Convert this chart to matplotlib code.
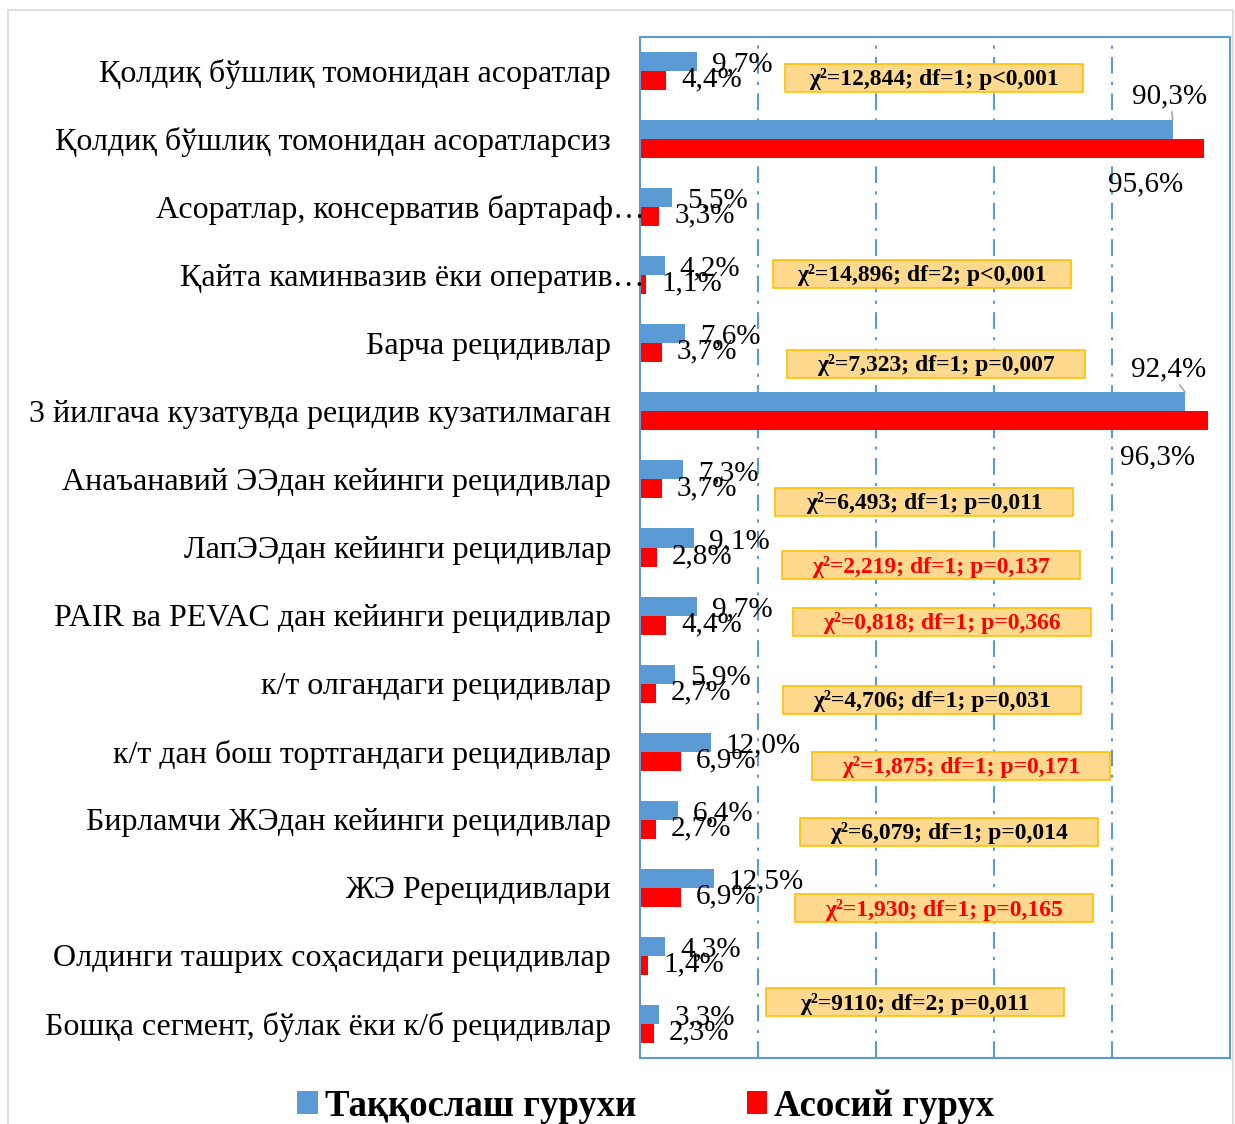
import numpy as np
import matplotlib.pyplot as plt
from matplotlib.patches import Rectangle
from matplotlib.transforms import ScaledTranslation

plt.rcParams['font.family'] = ['Liberation Serif', 'DejaVu Serif']

# data
categories = [
    'Қолдиқ бўшлиқ томонидан асоратлар',
    'Қолдиқ бўшлиқ томонидан асоратларсиз',
    'Асоратлар, консерватив бартараф…',
    'Қайта каминвазив ёки оператив…',
    'Барча рецидивлар',
    '3 йилгача кузатувда рецидив кузатилмаган',
    'Анаъанавий ЭЭдан кейинги рецидивлар',
    'ЛапЭЭдан кейинги рецидивлар',
    'PAIR ва PEVAC дан кейинги рецидивлар',
    'к/т олгандаги рецидивлар',
    'к/т дан бош тортгандаги рецидивлар',
    'Бирламчи ЖЭдан кейинги рецидивлар',
    'ЖЭ Ререцидивлари',
    'Олдинги ташрих соҳасидаги рецидивлар',
    'Бошқа сегмент, бўлак ёки к/б рецидивлар',
]
comparison = [9.7, 90.3, 5.5, 4.2, 7.6, 92.4, 7.3, 9.1, 9.7, 5.9, 12.0, 6.4, 12.5, 4.3, 3.3]
main_group = [4.4, 95.6, 3.3, 1.1, 3.7, 96.3, 3.7, 2.8, 4.4, 2.7, 6.9, 2.7, 6.9, 1.4, 2.3]

stat_texts = [
    'χ²=12,844; df=1; p<0,001',
    'χ²=14,896; df=2; p<0,001',
    'χ²=7,323; df=1; p=0,007',
    'χ²=6,493; df=1; p=0,011',
    'χ²=2,219; df=1; p=0,137',
    'χ²=0,818; df=1; p=0,366',
    'χ²=4,706; df=1; p=0,031',
    'χ²=1,875; df=1; p=0,171',
    'χ²=6,079; df=1; p=0,014',
    'χ²=1,930; df=1; p=0,165',
    'χ²=9110; df=2; p=0,011',
]
stat_significant = [True, True, True, True, False, False, True, False, True, False, True]

# box positions (x left in %, y center in row units)
stat_x = [24.6, 22.5, 24.9, 22.9, 24.1, 25.9, 24.2, 29.2, 27.1, 26.3, 21.4]
stat_y = [0.10, 2.98, 4.30, 6.33, 7.26, 8.09, 9.24, 10.21, 11.18, 12.30, 13.68]

blue = '#5B9BD5'
red = '#FF0000'

fig = plt.figure(figsize=(12.35, 11.24), dpi=100)
ax = fig.add_axes([640/1235, 1-1058/1124, 590/1235, 1021/1124])

y = np.arange(len(categories))
h = 0.28
ax.barh(y - h/2, comparison, height=h, color=blue, label='Таққослаш гурухи')
ax.barh(y + h/2, main_group, height=h, color=red, label='Асосий гурух')

ax.set_xlim(0, 100)
ax.set_ylim(len(categories) - 0.5, -0.5)
ax.set_xticks([])
ax.set_yticks([])
for s in ax.spines.values():
    s.set_color(blue)
    s.set_linewidth(1.5)
for gx in [20, 40, 60, 80]:
    ax.axvline(gx, color=blue, lw=1.5, ls=(0, (8, 4, 1.5, 4)), zorder=0)

# category labels (truncated ones overflow to the right like the original)
for i, c in enumerate(categories):
    shift = -29 + (34 if c.endswith('…') else 0)
    tr = ax.get_yaxis_transform() + ScaledTranslation(shift / 100, -3 / 100, fig.dpi_scale_trans)
    ax.text(0, i, c, transform=tr, ha='right', va='center', fontsize=23)

# value labels
big_offsets = {1: ((-3, 24), (-58, -26)), 5: ((-17, 23), (-51, -27))}
for i in range(len(categories)):
    lb = f'{comparison[i]:.1f}%'.replace('.', ',')
    lr = f'{main_group[i]:.1f}%'.replace('.', ',')
    if i in big_offsets:
        ob, orr = big_offsets[i]
        ax.annotate(lb, (comparison[i], i - h), xytext=ob, textcoords='offset pixels',
                    ha='center', va='center', fontsize=21,
                    arrowprops=dict(arrowstyle='-', color='#A6A6A6', lw=1.2,
                                    shrinkA=12, shrinkB=0))
        ax.annotate(lr, (main_group[i], i + h), xytext=orr, textcoords='offset pixels',
                    ha='center', va='center', fontsize=21)
    else:
        ax.annotate(lb, (comparison[i], i - h/2), xytext=(15, -3), textcoords='offset pixels',
                    ha='left', va='center', fontsize=21)
        ax.annotate(lr, (main_group[i], i + h/2), xytext=(15, 1), textcoords='offset pixels',
                    ha='left', va='center', fontsize=21)

# chi-square boxes
bw = 298 / 5.9
bh = 28 / (1021 / 15)
for t, sig, bx, by in zip(stat_texts, stat_significant, stat_x, stat_y):
    ax.add_patch(Rectangle((bx, by - bh/2), bw, bh, facecolor='#FFD98E',
                           edgecolor='#FFC000', lw=1.2, zorder=3))
    ax.text(bx + bw/2, by + 0.02, t, ha='center', va='center', fontsize=17,
            fontweight='bold', color='black' if sig else red, zorder=4)

# outer frame
fig.patches.append(Rectangle((8/1235, -0.01), 1225/1235, 1 - 10/1124 + 0.01,
                             transform=fig.transFigure, fill=False,
                             edgecolor='#D9D9D9', lw=1.2))

leg = fig.legend(loc='center', bbox_to_anchor=(646/1235, 1-1106/1124), ncol=2,
                 frameon=False, prop={'size': 26.5, 'weight': 'bold'},
                 handlelength=0.55, handleheight=0.55, handletextpad=0.2,
                 columnspacing=3.0)

fig.savefig('out.png', dpi=100)
